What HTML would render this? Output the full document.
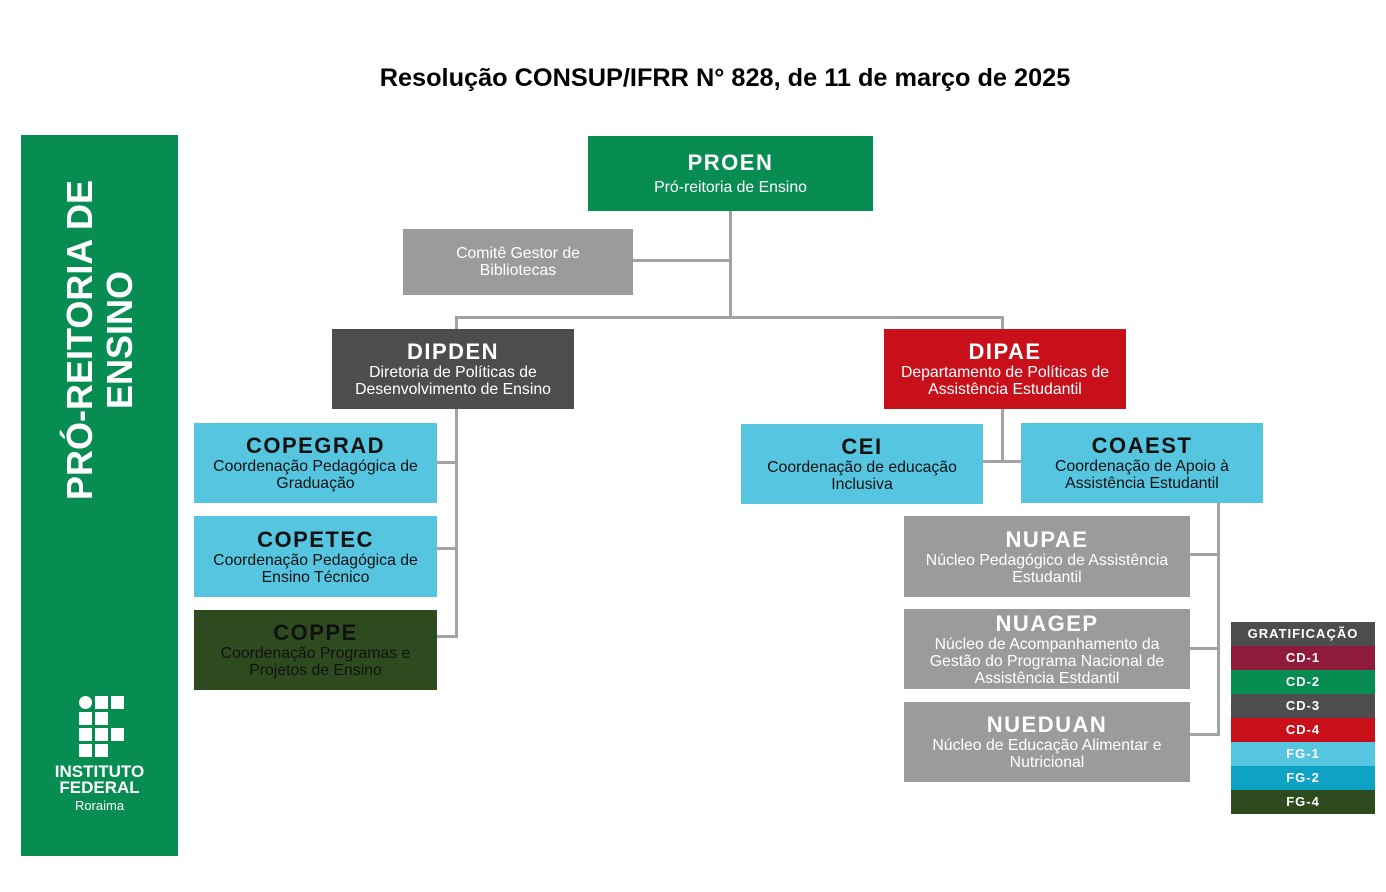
<!DOCTYPE html>
<html><head><meta charset="utf-8"><style>
body{margin:0;width:1386px;height:892px;background:#fff;position:relative;overflow:hidden;font-family:"Liberation Sans",sans-serif}
.a{position:absolute}
.box{position:absolute;display:flex;flex-direction:column;align-items:center;justify-content:center;text-align:center;color:#fff;font-size:15.8px;line-height:17px}
.box b{font-size:22px;line-height:24px;letter-spacing:1.5px}
.dk{color:#111}
.l{position:absolute;background:#a3a3a3}
.lg{position:absolute;left:1231px;width:144px;height:24px;color:#fff;font-weight:bold;font-size:13px;line-height:24px;text-align:center;letter-spacing:1px}
.sq{position:absolute;background:#fff;width:13px;height:13px}
</style></head><body>
<div class="a" style="left:0;width:1450px;top:64px;text-align:center;font-weight:bold;font-size:25.3px">Resolução CONSUP/IFRR N° 828, de 11 de março de 2025</div>

<div class="a" style="left:21px;top:135px;width:157px;height:721px;background:#078c52"></div>
<div class="a" style="left:-100px;top:300px;width:400px;height:80px;transform:rotate(-90deg);color:#fff;font-weight:bold;font-size:36px;line-height:40px;text-align:center;white-space:nowrap">PRÓ-REITORIA DE<br>ENSINO</div>
<div class="sq" style="left:79px;top:696px;border-radius:50%"></div>
<div class="sq" style="left:95px;top:696px"></div><div class="sq" style="left:111px;top:696px"></div>
<div class="sq" style="left:79px;top:712px"></div><div class="sq" style="left:95px;top:712px"></div>
<div class="sq" style="left:79px;top:728px"></div><div class="sq" style="left:95px;top:728px"></div><div class="sq" style="left:111px;top:728px"></div>
<div class="sq" style="left:79px;top:744px"></div><div class="sq" style="left:95px;top:744px"></div>
<div class="a" style="left:21px;width:157px;top:764px;text-align:center;color:#fff;font-weight:bold;font-size:17px;line-height:16px">INSTITUTO<br>FEDERAL</div>
<div class="a" style="left:21px;width:157px;top:798px;text-align:center;color:#fff;font-size:13px">Roraima</div>

<div class="l" style="left:729px;top:211px;width:3px;height:108px"></div>
<div class="l" style="left:633px;top:259px;width:98px;height:3px"></div>
<div class="l" style="left:455px;top:316px;width:549px;height:3px"></div>
<div class="l" style="left:455px;top:316px;width:3px;height:13px"></div>
<div class="l" style="left:1001px;top:316px;width:3px;height:13px"></div>
<div class="l" style="left:455px;top:409px;width:3px;height:229px"></div>
<div class="l" style="left:437px;top:461px;width:20px;height:3px"></div>
<div class="l" style="left:437px;top:547px;width:20px;height:3px"></div>
<div class="l" style="left:437px;top:635px;width:20px;height:3px"></div>
<div class="l" style="left:1001px;top:409px;width:3px;height:54px"></div>
<div class="l" style="left:983px;top:460px;width:38px;height:3px"></div>
<div class="l" style="left:1217px;top:503px;width:3px;height:233px"></div>
<div class="l" style="left:1190px;top:553px;width:29px;height:3px"></div>
<div class="l" style="left:1190px;top:647px;width:29px;height:3px"></div>
<div class="l" style="left:1190px;top:733px;width:29px;height:3px"></div>

<div class="box" style="left:588px;top:136px;width:285px;height:75px;background:#078c52"><b>PROEN</b><span style="margin-top:4px">Pró-reitoria de Ensino</span></div>
<div class="box" style="left:403px;top:229px;width:230px;height:66px;background:#9b9b9b">Comitê Gestor de<br>Bibliotecas</div>
<div class="box" style="left:332px;top:329px;width:242px;height:80px;background:#4d4d4d"><b>DIPDEN</b>Diretoria de Políticas de<br>Desenvolvimento de Ensino</div>
<div class="box" style="left:884px;top:329px;width:242px;height:80px;background:#c8101a"><b>DIPAE</b>Departamento de Políticas de<br>Assistência Estudantil</div>
<div class="box dk" style="left:194px;top:423px;width:243px;height:80px;background:#56c5e0"><b>COPEGRAD</b>Coordenação Pedagógica de<br>Graduação</div>
<div class="box dk" style="left:194px;top:516px;width:243px;height:81px;background:#56c5e0"><b>COPETEC</b>Coordenação Pedagógica de<br>Ensino Técnico</div>
<div class="box dk" style="left:194px;top:610px;width:243px;height:80px;background:#2e4b1f"><b>COPPE</b>Coordenação Programas e<br>Projetos de Ensino</div>
<div class="box dk" style="left:741px;top:424px;width:242px;height:80px;background:#56c5e0"><b>CEI</b>Coordenação de educação<br>Inclusiva</div>
<div class="box dk" style="left:1021px;top:423px;width:242px;height:80px;background:#56c5e0"><b>COAEST</b>Coordenação de Apoio à<br>Assistência Estudantil</div>
<div class="box" style="left:904px;top:516px;width:286px;height:81px;background:#9b9b9b"><b>NUPAE</b>Núcleo Pedagógico de Assistência<br>Estudantil</div>
<div class="box" style="left:904px;top:609px;width:286px;height:80px;background:#9b9b9b"><b>NUAGEP</b>Núcleo de Acompanhamento da<br>Gestão do Programa Nacional de<br>Assistência Estdantil</div>
<div class="box" style="left:904px;top:702px;width:286px;height:80px;background:#9b9b9b"><b>NUEDUAN</b>Núcleo de Educação Alimentar e<br>Nutricional</div>

<div class="lg" style="top:622px;background:#4d4d4d">GRATIFICAÇÃO</div>
<div class="lg" style="top:646px;background:#8e1a3c">CD-1</div>
<div class="lg" style="top:670px;background:#078c52">CD-2</div>
<div class="lg" style="top:694px;background:#4d4d4d">CD-3</div>
<div class="lg" style="top:718px;background:#c8101a">CD-4</div>
<div class="lg" style="top:742px;background:#56c5e0">FG-1</div>
<div class="lg" style="top:766px;background:#0ea3c4">FG-2</div>
<div class="lg" style="top:790px;background:#2e4b1f">FG-4</div>
</body></html>
